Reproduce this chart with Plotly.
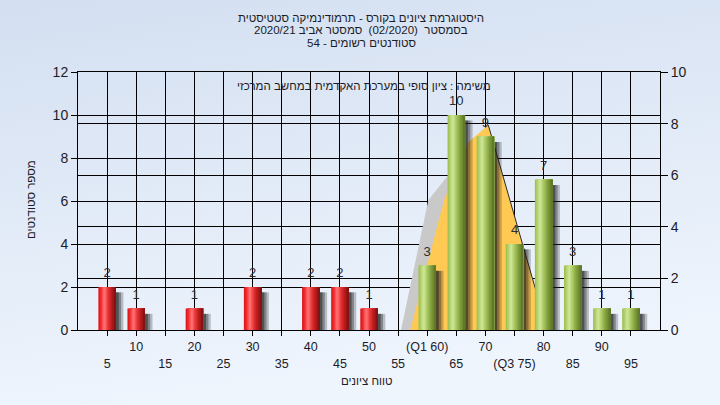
import base64
import plotly.graph_objects as go

# ---------------- data ----------------
fail_bins = [5, 10, 20, 30, 40, 45, 50]
fail_counts = [2, 1, 1, 2, 2, 2, 1]
pass_bins = [60, 65, 70, 75, 80, 85, 90, 95]
pass_counts = [3, 10, 9, 4, 7, 3, 1, 1]

tick_vals = [5, 10, 15, 20, 25, 30, 35, 40, 45, 50, 55, 60, 65, 70, 75, 80, 85, 90, 95]
tick_labels = ["5", "10", "15", "20", "25", "30", "35", "40", "45", "50", "55",
               "(Q1 60)", "65", "70", "(Q3 75)", "80", "85", "90", "95"]

# distribution area (left-axis units)
curve_x = [57.1, 60.7, 62.9, 67.1, 70.5, 78.8, 78.8]
curve_y = [0, 3.7, 6.05, 8.74, 9.53, 1.72, 0]
shade_x = [55.5, 60.2, 70.5, 78.8, 80.5]
shade_y = [0, 6.05, 9.53, 1.72, 0]

title_lines = ["היסטוגרמת ציונים בקורס - תרמודינמיקה סטטיסטית",
               "בסמסטר  (02/2020)  סמסטר אביב 2020/21",
               "סטודנטים רשומים - 54"]
task_text = "משימה : ציון סופי במערכת האקדמית במחשב המרכזי"
x_title = "טווח ציונים"
y_title = "מספר סטודנטים"

# ---------------- helpers ----------------


def hex2rgb(h):
    h = h.lstrip("#")
    return [int(h[i:i + 2], 16) for i in (0, 2, 4)]


def grad(stops, t):
    for (t0, c0), (t1, c1) in zip(stops, stops[1:]):
        if t0 <= t <= t1:
            a, b = hex2rgb(c0), hex2rgb(c1)
            f = (t - t0) / (t1 - t0) if t1 > t0 else 0
            r = [round(a[k] + (b[k] - a[k]) * f) for k in range(3)]
            return "rgb(%d,%d,%d)" % tuple(r)
    return stops[-1][1]


red_stops = [(0, "#d81216"), (0.15, "#f02a2e"), (0.35, "#ff7a7a"), (0.5, "#f04042"),
             (0.72, "#c41e20"), (1, "#7e1010")]
green_stops = [(0, "#98bc48"), (0.3, "#d2e89c"), (0.5, "#a9c860"), (0.75, "#7d9b3a"),
               (1, "#5a7428")]

BAR_W = 3.0
N = 14
FONT = "Liberation Sans, Arial, sans-serif"

fig = go.Figure()

# distribution area (main subplot, drawn first)
fig.add_trace(go.Scatter(x=shade_x, y=shade_y, fill="toself", mode="lines",
                         fillcolor="#c9c9c9", line=dict(width=0), hoverinfo="skip",
                         showlegend=False))
fig.add_trace(go.Scatter(x=curve_x, y=curve_y, fill="toself", mode="lines",
                         fillcolor="#ffc953", line=dict(width=0), hoverinfo="skip",
                         showlegend=False))
fig.add_trace(go.Scatter(x=curve_x[4:6], y=curve_y[4:6], mode="lines",
                         line=dict(color="#2a2a2a", width=1), hoverinfo="skip",
                         showlegend=False))

# shadows (overlay subplot above the area)
for bins, counts in ((fail_bins, fail_counts), (pass_bins, pass_counts)):
    sy = [c - 0.25 for c in counts]
    for w, a in ((1.6, 0.25), (1.2, 0.35), (0.8, 0.5)):
        fig.add_trace(go.Bar(x=bins, y=sy, offset=1.2, width=w, yaxis="y3",
                             marker=dict(color="rgba(30,30,30,%s)" % a, line=dict(width=0)),
                             hoverinfo="skip", showlegend=False))

# gradient bars
for bins, counts, stops in ((fail_bins, fail_counts, red_stops),
                            (pass_bins, pass_counts, green_stops)):
    for i in range(N):
        off = -BAR_W / 2 + i * BAR_W / N
        fig.add_trace(go.Bar(x=bins, y=counts, offset=off, width=BAR_W / 2 - off, yaxis="y3",
                             marker=dict(color=grad(stops, (i + 0.5) / N), line=dict(width=0)),
                             hoverinfo="skip", showlegend=False))

# value labels
for bins, counts in ((fail_bins, fail_counts), (pass_bins, pass_counts)):
    fig.add_trace(go.Scatter(x=bins, y=counts, text=[str(c) for c in counts],
                             mode="markers+text", marker=dict(size=9, opacity=0),
                             textposition="top center", cliponaxis=False, yaxis="y3",
                             textfont=dict(family=FONT, size=13, color="#2b2b33"),
                             hoverinfo="skip", showlegend=False))

# empty traces to activate secondary axes
fig.add_trace(go.Scatter(x=[None], y=[None], yaxis="y2", showlegend=False, hoverinfo="skip"))
fig.add_trace(go.Scatter(x=[None], y=[None], xaxis="x3", showlegend=False, hoverinfo="skip"))

upper = [lab if v % 10 == 0 else "" for v, lab in zip(tick_vals, tick_labels)]
lower_vals = [v for v in tick_vals if v % 10 != 0]
lower_text = [lab for v, lab in zip(tick_vals, tick_labels) if v % 10 != 0]

W, H = 720, 405
ML, MR, MT, MB = 78, 60, 72, 75
PW, PH = W - ML - MR, H - MT - MB

svg = ('<svg xmlns="http://www.w3.org/2000/svg" width="720" height="405" viewBox="0 0 720 405" '
       'preserveAspectRatio="none"><defs><linearGradient id="g" x1="0" y1="0" x2="0.25" y2="1">'
       '<stop offset="0" stop-color="#d3dff1"/><stop offset="1" stop-color="#eff5fd"/>'
       '</linearGradient></defs><rect width="720" height="405" fill="url(#g)"/></svg>')
bg_src = "data:image/svg+xml;base64," + base64.b64encode(svg.encode()).decode()


def py(ypix):
    return (H - MB - ypix) / PH


def px(xpix):
    return (xpix - ML) / PW


annotations = []
for line, yp in zip(title_lines, (18, 30, 43)):
    annotations.append(dict(text=line, xref="paper", yref="paper", x=px(361), y=py(yp),
                            xanchor="center", yanchor="middle", showarrow=False,
                            font=dict(family=FONT, size=11.5, color="#1c1c28")))
annotations.append(dict(text=task_text, xref="paper", yref="paper", x=px(364), y=py(86),
                        xanchor="center", yanchor="middle", showarrow=False,
                        font=dict(family=FONT, size=11.5, color="#1c1c28")))
annotations.append(dict(text=x_title, xref="paper", yref="paper", x=px(367), y=py(381),
                        xanchor="center", yanchor="middle", showarrow=False,
                        font=dict(family=FONT, size=11.5, color="#1c1c28")))
annotations.append(dict(text=y_title, xref="paper", yref="paper", x=px(31), y=py(200),
                        xanchor="center", yanchor="middle", showarrow=False, textangle=-90,
                        font=dict(family=FONT, size=11.5, color="#1c1c28")))

tickfont = dict(family=FONT, size=12.5, color="#1c1c28")
fig.update_layout(
    width=W, height=H,
    margin=dict(l=ML, r=MR, t=MT, b=MB, autoexpand=False),
    paper_bgcolor="#e1eaf7", plot_bgcolor="#b4b4b4",
    barmode="overlay",
    showlegend=False,
    images=[dict(source=bg_src, xref="paper", yref="paper", x=-ML / PW, y=1 + MT / PH,
                 sizex=W / PW, sizey=H / PH, sizing="stretch", xanchor="left", yanchor="top",
                 layer="below")],
    xaxis=dict(range=[0, 100], tickvals=tick_vals, ticktext=upper, ticks="outside", ticklen=5,
               tickcolor="black", showgrid=True, gridcolor="black", gridwidth=1,
               showline=True, linecolor="black", linewidth=1, mirror=True, zeroline=False,
               tickfont=tickfont),
    xaxis3=dict(range=[0, 100], overlaying="x", anchor="y", side="bottom", tickvals=lower_vals,
                ticktext=lower_text, ticks="", showgrid=False, showline=False, zeroline=False,
                ticklabelstandoff=24, tickfont=tickfont),
    yaxis=dict(range=[0, 12], dtick=2, ticks="outside", ticklen=6, tickcolor="black",
               showgrid=True, gridcolor="black", gridwidth=1, showline=True, linecolor="black",
               linewidth=1, zeroline=False, tickfont=dict(family=FONT, size=14, color="#1c1c28")),
    yaxis2=dict(range=[0, 10], dtick=2, overlaying="y", side="right", anchor="x", ticks="outside",
                ticklen=7, tickcolor="black", showgrid=True, gridcolor="black", gridwidth=1,
                showline=True, linecolor="black", linewidth=1, zeroline=False,
                tickfont=dict(family=FONT, size=14, color="#1c1c28")),
    yaxis3=dict(range=[0, 12], overlaying="y", anchor="x", visible=False, showgrid=False,
                zeroline=False),
    annotations=annotations,
)

fig.write_html("out.html", config={"displayModeBar": False},
               post_script="document.body.style.margin='0px';")
